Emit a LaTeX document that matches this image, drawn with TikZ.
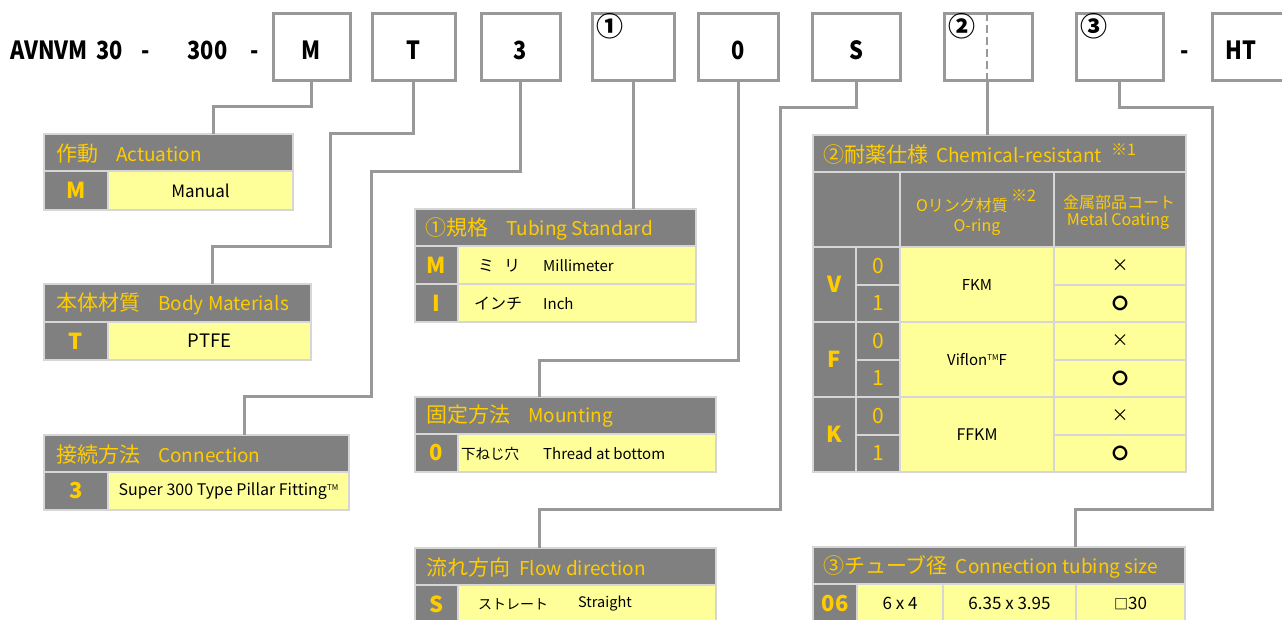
\documentclass[tikz,border=0pt]{standalone}
\usepackage{fontspec}
\setmainfont{Noto Sans CJK JP}
\newfontfamily\topfont[FakeStretch=0.87]{Noto Sans CJK JP}
\usetikzlibrary{calc}
\definecolor{hgray}{HTML}{808080}
\definecolor{ylw}{HTML}{FFCC00}
\definecolor{cellY}{HTML}{FFFF99}
\definecolor{lineG}{HTML}{999999}
\definecolor{gridG}{HTML}{D6D6D6}
\newcommand\fHdr{\fontsize{19}{23}\selectfont}
\newcommand\jH[1]{{\fontsize{21}{24}\selectfont #1}}
\newcommand\fVal{\fontsize{17}{20}\selectfont}
\newcommand\fSm{\fontsize{15}{18}\selectfont}
\newcommand\fSub{\fontsize{16}{19}\selectfont}
\newcommand\fCode{\bfseries\fontsize{22}{26}\selectfont}
\newcommand\fNum{\fontsize{21}{25}\selectfont}
\newcommand\fTop{\topfont\bfseries\fontsize{25}{28}\selectfont}
\newcommand\fCirc{\bfseries\fontsize{27}{30}\selectfont}
\newcommand\fNote{\fontsize{16}{18}\selectfont}
\newcommand\tm{\raisebox{5pt}{\fontsize{8}{8}\selectfont TM}}
\newcommand\maru{{\bfseries\fontsize{16}{18}\selectfont 〇}}
\newcommand\batsu{{\fontsize{17}{18}\selectfont ×}}
\newcommand\cellnode[7]{\node[#1, minimum width={#4-#2}, minimum height={#5-#3}] (#6) at (#2,#3) {#7};}
\tikzset{
 conn/.style={draw=lineG, line width=3pt},
 topbox/.style={draw=lineG, line width=3pt, fill=white, inner sep=0, outer sep=0, anchor=north west},
 hcell/.style={fill=hgray, draw=gridG, line width=1.5pt, inner sep=0, outer sep=0, anchor=north west},
 gcell/.style={fill=hgray, draw=gridG, line width=1.5pt, inner sep=0, outer sep=0, anchor=north west, text=ylw, font=\fCode},
 ncell/.style={fill=hgray, draw=gridG, line width=1.5pt, inner sep=0, outer sep=0, anchor=north west, text=ylw, font=\fNum},
 ycell/.style={fill=cellY, draw=gridG, line width=1.5pt, inner sep=0, outer sep=0, anchor=north west, text=black, font=\fVal},
 htext/.style={anchor=west, inner sep=0, text=ylw, font=\fHdr},
 vtext/.style={inner sep=0, text=black, font=\fSm},
 toptext/.style={anchor=base, inner sep=0, font=\fTop},
}
\begin{document}
\begin{tikzpicture}[x=1pt,y=-1pt]
\clip (0,0) rectangle (1282,619);
\fill[white] (0,0) rectangle (1282,619);
% ---------- top code row ----------
\node[anchor=base west, font=\fTop, inner sep=0] (title) at (10,59) {AVNVM\hspace{9pt}30\hspace{18pt}-\hspace{38pt}300\hspace{23pt}-};
\cellnode{topbox}{273}{13}{350}{80}{bM}{}
\cellnode{topbox}{372}{13}{455}{80}{bT}{}
\cellnode{topbox}{481}{13}{560}{80}{bC}{}
\cellnode{topbox}{592}{13}{674}{80}{bOne}{}
\cellnode{topbox}{698}{13}{778}{80}{bZ}{}
\cellnode{topbox}{812}{13}{900}{80}{bS}{}
\cellnode{topbox}{944}{13}{1032}{80}{bTwo}{}
\cellnode{topbox}{1076}{13}{1163}{80}{bThree}{}
\cellnode{topbox}{1212}{13}{1295}{80}{bHT}{}
\node[toptext] (tM) at ($(bM.south)+(0,-21)$) {M};
\node[toptext] (tT) at ($(bT.south)+(0,-21)$) {T};
\node[toptext] (tC) at ($(bC.south)+(0,-21)$) {3};
\node[toptext] (tZ) at ($(bZ.south)+(0,-21)$) {0};
\node[toptext] (tS) at ($(bS.south)+(0,-21)$) {S};
\node[toptext] (tHT) at ($(bHT.south west)+(29,-21)$) {HT};
\node[toptext] (dash) at ($(bThree.south east)+(22,-21)$) {-};
\node[anchor=north west, inner sep=0, font=\fCirc] (cOne) at ($(bOne.north west)+(4,0)$) {①};
\node[anchor=north west, inner sep=0, font=\fCirc] (cTwo) at ($(bTwo.north west)+(4,0)$) {②};
\node[anchor=north west, inner sep=0, font=\fCirc] (cThree) at ($(bThree.north west)+(4,0)$) {③};
\draw[draw=lineG, line width=2pt, dash pattern=on 8pt off 4pt] ($(bTwo.north west)+(43,0)$) -- ($(bTwo.south west)+(43,0)$);

% ---------- Actuation ----------
\cellnode{hcell}{44}{134}{293}{171}{hAct}{}
\node[htext] (hActT) at ($(hAct.west)+(12,1)$) {\jH{作動}\hspace{18pt}Actuation};
\cellnode{gcell}{44}{171}{108}{210}{cAct}{M}
\cellnode{ycell}{108}{171}{293}{210}{vAct}{Manual}
% ---------- Body ----------
\cellnode{hcell}{44}{284}{311}{322}{hBody}{}
\node[htext] (hBodyT) at ($(hBody.west)+(12,1)$) {\jH{本体材質}\hspace{18pt}Body Materials};
\cellnode{gcell}{44}{322}{108}{360}{cBody}{T}
\cellnode{ycell}{108}{322}{311}{360}{vBody}{\fontsize{18.5}{21}\selectfont PTFE}
% ---------- Connection ----------
\cellnode{hcell}{44}{435}{349}{472}{hConn}{}
\node[htext] (hConnT) at ($(hConn.west)+(12,1)$) {\jH{接続方法}\hspace{18pt}Connection};
\cellnode{gcell}{44}{472}{108}{510}{cConn}{3}
\cellnode{ycell}{108}{472}{349}{510}{vConn}{\fontsize{16}{19}\selectfont Super 300 Type Pillar Fitting\tm}
% ---------- Tubing standard ----------
\cellnode{hcell}{415}{209}{696}{246}{hTub}{}
\node[htext] (hTubT) at ($(hTub.west)+(10,1)$) {\jH{①規格}\hspace{18pt}Tubing Standard};
\cellnode{gcell}{415}{246}{458}{284}{cTubM}{M}
\cellnode{ycell}{458}{246}{696}{284}{vTubM}{}
\cellnode{gcell}{415}{284}{458}{322}{cTubI}{I}
\cellnode{ycell}{458}{284}{696}{322}{vTubI}{}
\node[vtext, font=\fontsize{16}{19}\selectfont] (tMiri) at (499,266) {ミ\hspace{10pt}リ};
\node[vtext, anchor=west] (tMilli) at (543,266) {Millimeter};
\node[vtext, font=\fontsize{16}{19}\selectfont] (tInchi) at (498,304) {インチ};
\node[vtext, anchor=west] (tInch) at (543,304) {Inch};
% ---------- Mounting ----------
\cellnode{hcell}{415}{397}{716}{434}{hMount}{}
\node[htext] (hMountT) at ($(hMount.west)+(11,1)$) {\jH{固定方法}\hspace{18pt}Mounting};
\cellnode{gcell}{415}{434}{458}{472}{cMount}{0}
\cellnode{ycell}{458}{434}{716}{472}{vMount}{}
\node[vtext, anchor=west, font=\fontsize{14.5}{17}\selectfont] (tShita) at (461,454) {下ねじ穴};
\node[vtext, anchor=west] (tThread) at (543,454) {Thread at bottom};
% ---------- Flow ----------
\cellnode{hcell}{415}{548}{716}{585}{hFlow}{}
\node[htext] (hFlowT) at ($(hFlow.west)+(11,1)$) {\jH{流れ方向}\hspace{9pt}Flow direction};
\cellnode{gcell}{415}{585}{458}{623}{cFlow}{S}
\cellnode{ycell}{458}{585}{716}{623}{vFlow}{}
\node[vtext, anchor=west, font=\fontsize{14}{17}\selectfont] (tStr) at (478,604) {ストレート};
\node[vtext, anchor=west, font=\fontsize{14.5}{17}\selectfont] (tStraight) at (578,604) {Straight};
% ---------- Chemical ----------
\cellnode{hcell}{813}{135}{1186}{172}{hChem}{}
\node[htext] (hChemT) at ($(hChem.west)+(10,1)$) {\jH{②耐薬仕様}\hspace{8pt}Chemical-resistant};
\node[anchor=west, inner sep=0, text=ylw, font=\fNote] (n1) at (1111,150) {※1};
\cellnode{hcell}{813}{172}{900}{247}{sEmpty}{}
\cellnode{hcell}{900}{172}{1054}{247}{sOring}{}
\cellnode{hcell}{1054}{172}{1186}{247}{sCoat}{}
\node[inner sep=0, text=ylw, font=\fSub] (sOringA) at (962,205) {Oリング材質};
\node[anchor=west, inner sep=0, text=ylw, font=\fNote] (n2) at (1011,196) {※2};
\node[inner sep=0, text=ylw, font=\fSub] (sOringB) at (977,227) {O-ring};
\node[inner sep=0, text=ylw, font=\fSub] (sCoatA) at (1119,202) {金属部品コート};
\node[inner sep=0, text=ylw, font=\fSub] (sCoatB) at (1118,221) {Metal Coating};
% V
\cellnode{gcell}{813}{247}{856}{322}{cV}{V}
\cellnode{ncell}{856}{247}{900}{285}{cV0}{0}
\cellnode{ncell}{856}{285}{900}{322}{cV1}{1}
\cellnode{ycell}{900}{247}{1054}{322}{oV}{\fSm FKM}
\cellnode{ycell}{1054}{247}{1186}{285}{mV0}{\batsu}
\cellnode{ycell}{1054}{285}{1186}{322}{mV1}{\maru}
% F
\cellnode{gcell}{813}{322}{856}{397}{cF}{F}
\cellnode{ncell}{856}{322}{900}{360}{cF0}{0}
\cellnode{ncell}{856}{360}{900}{397}{cF1}{1}
\cellnode{ycell}{900}{322}{1054}{397}{oF}{\fSm Viflon\tm F}
\cellnode{ycell}{1054}{322}{1186}{360}{mF0}{\batsu}
\cellnode{ycell}{1054}{360}{1186}{397}{mF1}{\maru}
% K
\cellnode{gcell}{813}{397}{856}{472}{cK}{K}
\cellnode{ncell}{856}{397}{900}{435}{cK0}{0}
\cellnode{ncell}{856}{435}{900}{472}{cK1}{1}
\cellnode{ycell}{900}{397}{1054}{472}{oK}{\fontsize{16}{19}\selectfont FFKM}
\cellnode{ycell}{1054}{397}{1186}{435}{mK0}{\batsu}
\cellnode{ycell}{1054}{435}{1186}{472}{mK1}{\maru}
% ---------- Tubing size ----------
\cellnode{hcell}{813}{547}{1185}{584}{hSize}{}
\node[htext] (hSizeT) at ($(hSize.west)+(10,1)$) {\jH{③チューブ径}\hspace{8pt}Connection tubing size};
\cellnode{gcell}{813}{584}{857}{623}{cSize}{06}
\cellnode{ycell}{857}{584}{943}{623}{vSizeA}{6 x 4}
\cellnode{ycell}{943}{584}{1076}{623}{vSizeB}{6.35 x 3.95}
\cellnode{ycell}{1076}{584}{1185}{623}{vSizeC}{{\bfseries\fontsize{14}{16}\selectfont □}30}
% ---------- connectors ----------
\coordinate (kM) at (213,106);
\draw[conn] (bM.south) |- (kM) -- (kM |- hAct.north);
\coordinate (kT1) at (330,133);
\coordinate (kT2) at (212,246);
\draw[conn] (bT.south) |- (kT1) |- (kT2) -- (kT2 |- hBody.north);
\coordinate (kC1) at (371,171);
\coordinate (kC2) at (244,396);
\draw[conn] (bC.south) |- (kC1) |- (kC2) -- (kC2 |- hConn.north);
\draw[conn] (bOne.south) -- (bOne.south |- hTub.north);
\coordinate (kZ) at (539,360);
\draw[conn] (bZ.south) |- (kZ) -- (kZ |- hMount.north);
\coordinate (kS1) at (780,107);
\coordinate (kS2) at (539,509);
\draw[conn] (bS.south) |- (kS1) |- (kS2) -- (kS2 |- hFlow.north);
\coordinate (kTw) at ($(bTwo.south west)+(43,0)$);
\draw[conn] (kTw) -- (kTw |- hChem.north);
\coordinate (kR1) at (1212,107);
\coordinate (kR2) at (1075,509);
\draw[conn] (bThree.south) |- (kR1) |- (kR2) -- (kR2 |- hSize.north);
\end{tikzpicture}
\end{document}
